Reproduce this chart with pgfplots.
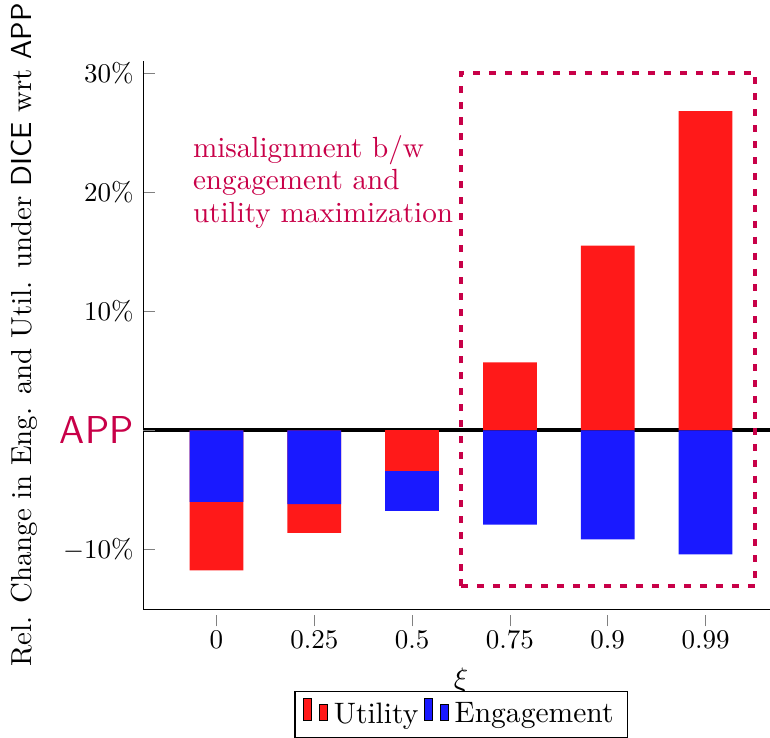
\documentclass[border=0pt]{standalone}
\usepackage{pgfplots}
\pgfplotsset{compat=1.18}
\definecolor{annot}{RGB}{200,0,72}
\newcommand{\elev}{\fontsize{10.95}{12}\selectfont}
\begin{document}
\begin{tikzpicture}
\begin{axis}[
  width=235.5pt, height=203pt, scale only axis,
  xmin=-0.75, xmax=5.75, ymin=-15, ymax=31,
  axis lines*=left,
  xtick={0,1,2,3,4,5}, xticklabels={0,0.25,0.5,0.75,0.9,0.99},
  ytick={-10,10,20,30}, yticklabels={$-10\%$,$10\%$,$20\%$,$30\%$},
  extra y ticks={0},
  extra y tick labels={\textcolor{annot}{\Large\sffamily APP}},
  extra y tick style={grid=major, major grid style={black, line width=1.5pt}},
  tick style={gray},
  xtick style={yshift=-0.075cm},
  xlabel={\elev$\xi$},
  ylabel={\fontsize{10.7}{12}\selectfont Rel. Change in Eng. and Util. under \textsf{DICE} wrt \textsf{APP}},
  ylabel shift=1.5pt,
  legend style={at={(0.5,-0.15)}, anchor=north, legend columns=2, draw=black, font=\elev},
  ybar, bar width=0.55,
]
\addplot[fill=red!90, draw=none, bar shift=0pt] coordinates {(0,-11.75) (1,-8.6) (3,5.7) (4,15.5) (5,26.8)};
\addlegendentry{Utility}
\addplot[fill=blue!90, draw=none, bar shift=0pt] coordinates {(0,-6.0) (1,-6.2) (2,-6.75) (3,-7.9) (4,-9.15) (5,-10.4)};
\addlegendentry{Engagement}
\addplot[fill=red!90, draw=none, bar shift=0pt, forget plot] coordinates {(2,-3.4)};
\draw[annot, line width=1.5pt, dash pattern=on 2.6pt off 3.3pt] (axis cs:2.5,-13.1) rectangle (axis cs:5.51,30.0);
\node[anchor=north west, inner sep=0pt, annot, align=left, font=\fontsize{10.8}{12}\selectfont] at (axis cs:-0.245,24.8) {misalignment b/w\\engagement and\\utility maximization};
\coordinate (SW) at (rel axis cs:0,0);
\coordinate (NE) at (rel axis cs:1,1);
\end{axis}
\pgfresetboundingbox
\path[use as bounding box] ([xshift=-53pt,yshift=-47.4pt]SW) rectangle ([xshift=-3.3pt,yshift=22.6pt]NE);
\end{tikzpicture}
\end{document}
